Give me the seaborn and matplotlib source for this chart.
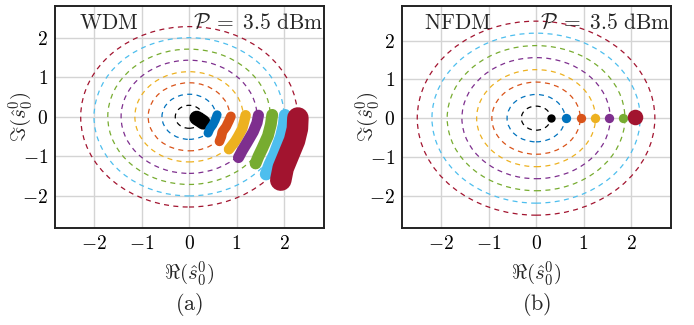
import numpy as np
import pandas as pd
import matplotlib
matplotlib.use("Agg")
import matplotlib.pyplot as plt
from matplotlib.patches import Circle
import seaborn as sns

# MATLAB-like colour order used by both panels
colors = ["#000000", "#0072BD", "#D95319", "#EDB120",
          "#7E2F8E", "#77AC30", "#4DBEEE", "#A2142F"]

# ring radii (reference constellation rings)
wdm_radii = [0.29, 0.57, 0.86, 1.14, 1.43, 1.71, 2.00, 2.28]
nfdm_radii = [0.31, 0.61, 0.93, 1.25, 1.56, 1.87, 2.19, 2.50]

# WDM received clouds, traced as centre lines (x, y) per ring
wdm_x = [[0.16, 0.24, 0.30],
         [0.59, 0.55, 0.50, 0.44, 0.40],
         [0.88, 0.84, 0.78, 0.70, 0.68, 0.64],
         [1.19, 1.16, 1.12, 1.03, 0.97, 0.84],
         [1.46, 1.43, 1.35, 1.22, 1.12, 1.04],
         [1.75, 1.72, 1.66, 1.54, 1.46, 1.40],
         [2.02, 2.00, 1.94, 1.80, 1.70, 1.62],
         [2.29, 2.28, 2.22, 2.10, 1.98, 1.93]]
wdm_y = [[-0.03, -0.09, -0.14],
         [0.05, -0.08, -0.20, -0.30, -0.41],
         [0.01, -0.10, -0.25, -0.38, -0.50, -0.62],
         [0.04, -0.12, -0.30, -0.50, -0.62, -0.82],
         [0.04, -0.15, -0.38, -0.65, -0.85, -1.03],
         [0.05, -0.20, -0.48, -0.80, -1.00, -1.18],
         [0.04, -0.20, -0.50, -0.95, -1.20, -1.45],
         [-0.03, -0.30, -0.60, -0.95, -1.30, -1.60]]
wdm_width = [10.5, 6.5, 7.0, 7.5, 8.0, 8.5, 9.0, 15.5]

# NFDM received points (tight clusters on the real axis)
nfdm_x = [[0.32], [0.63], [0.94], [1.24], [1.54], [1.82], [2.01], [2.09]]
nfdm_y = [[0.0], [0.0], [0.0], [0.0], [0.0], [0.0], [0.01], [0.02]]
nfdm_size = [36, 45, 45, 45, 45, 45, 45, 125]

ticks = [-2, -1, 0, 1, 2]
tick_labels = [r"$-2$", r"$-1$", r"$0$", r"$1$", r"$2$"]

sns.set_theme(style="whitegrid")
plt.rcParams["font.family"] = ["DejaVu Serif"]
plt.rcParams["mathtext.fontset"] = "cm"

fig = plt.figure(figsize=(6.94, 3.25), dpi=100)
ax1 = fig.add_axes([0.0793, 0.2985, 0.3876, 0.683])
ax2 = fig.add_axes([0.5793, 0.2985, 0.3876, 0.683])


def style_axes(ax, ylim, label, sub, lx):
    ax.set_xlim(-2.82, 2.84)
    ax.set_ylim(*ylim)
    ax.set_xticks(ticks)
    ax.set_yticks(ticks)
    ax.set_xticklabels(tick_labels)
    ax.set_yticklabels(tick_labels)
    ax.grid(True, color="#d4d4d4", lw=1.0)
    ax.set_axisbelow(True)
    ax.tick_params(labelsize=14, colors="black", length=0, pad=5)
    for s in ax.spines.values():
        s.set_color("#222222")
        s.set_linewidth(1.4)
    ax.set_xlabel(r"$\Re(\hat{s}_0^0)$", fontsize=15)
    ax.set_ylabel(r"$\Im(\hat{s}_0^0)$", fontsize=15)
    ax.xaxis.set_label_coords(0.5, -0.14)
    ax.yaxis.set_label_coords(-0.075, 0.5)
    ax.text(lx, 0.975, r"$\mathrm{" + label + "}$", transform=ax.transAxes,
            fontsize=15.5, va="top", ha="left")
    ax.text(0.998, 0.975, r"$\mathcal{P}\;=\;3.5\ \mathrm{dBm}$",
            transform=ax.transAxes, fontsize=15.5, va="top", ha="right")
    ax.text(0.5, -0.345, r"$\mathrm{(" + sub + ")}$", transform=ax.transAxes,
            fontsize=16, va="center", ha="center")


def draw_rings(ax, radii):
    for r, c in zip(radii, colors):
        ax.add_patch(Circle((0, 0), r, fill=False, ec=c, lw=0.9,
                            ls=(0, (4, 3.5)), zorder=2))


# (a) WDM
draw_rings(ax1, wdm_radii)
for xs, ys, c, w in zip(wdm_x, wdm_y, colors, wdm_width):
    df = pd.DataFrame({"x": xs, "y": ys})
    sns.lineplot(data=df, x="x", y="y", sort=False, color=c, lw=w,
                 solid_capstyle="round", solid_joinstyle="round",
                 ax=ax1, zorder=3)
style_axes(ax1, (-2.81, 2.80), "WDM", "a", 0.09)

# (b) NFDM
draw_rings(ax2, nfdm_radii)
for xs, ys, c, s in zip(nfdm_x, nfdm_y, colors, nfdm_size):
    sns.scatterplot(x=xs, y=ys, color=c, s=s, linewidth=0, ax=ax2, zorder=3)
style_axes(ax2, (-2.83, 2.89), "NFDM", "b", 0.08)

fig.savefig("out.png", dpi=100)
